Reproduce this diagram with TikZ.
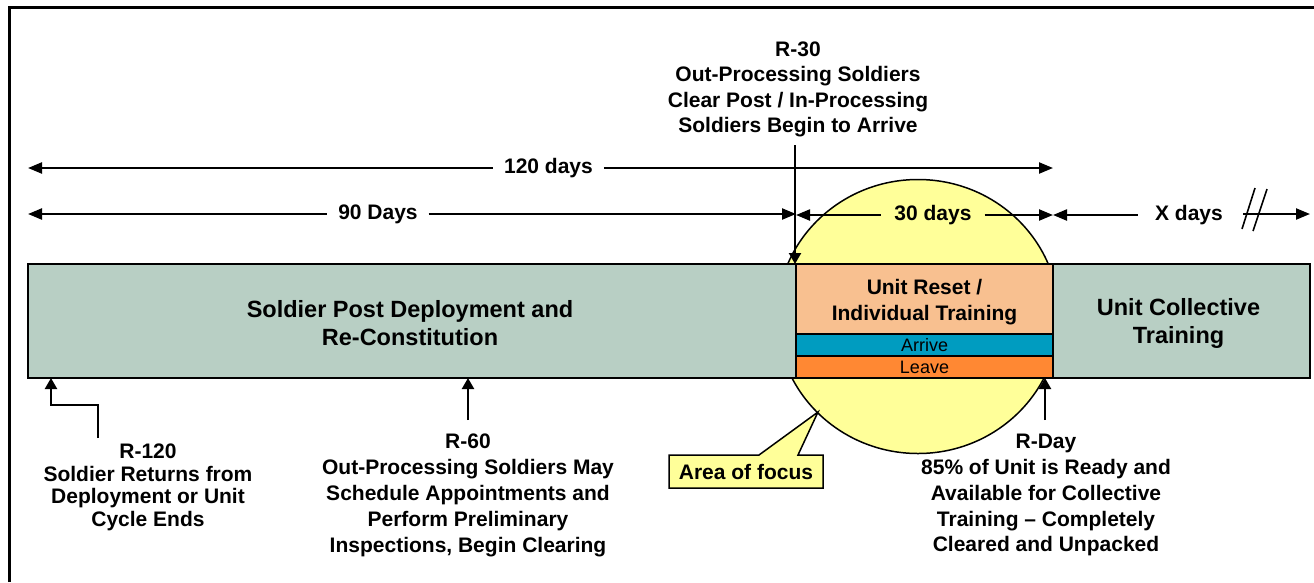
\documentclass[tikz,border=0pt]{standalone}
\usepackage{fontspec}
\setmainfont{Liberation Sans}
\usetikzlibrary{arrows.meta,shapes.geometric}
\definecolor{barGreen}{RGB}{184,207,196}
\definecolor{resetOrange}{RGB}{248,192,144}
\definecolor{arriveBlue}{RGB}{0,156,192}
\definecolor{leaveOrange}{RGB}{255,136,51}
\definecolor{focusYellow}{RGB}{255,255,153}
\tikzset{
  seg/.style={draw=black, line width=1.2pt, inner sep=0pt, outer sep=0pt, align=center},
  barlbl/.style={font=\bfseries\fontsize{23.5}{28}\selectfont, align=center, inner sep=0pt},
  midlbl/.style={font=\bfseries\fontsize{21}{26}\selectfont, align=center, inner sep=0pt},
  rowlbl/.style={font=\fontsize{18}{20}\selectfont},
  lbl/.style={font=\bfseries\fontsize{21}{25.5}\selectfont, align=center, inner sep=0pt, anchor=north},
  dimlbl/.style={font=\bfseries\fontsize{21}{25}\selectfont, inner ysep=0pt, inner xsep=11pt, outer sep=0pt},
  dimline/.style={line width=2.2pt},
  ptr/.style={line width=2.2pt, -{Triangle[length=11pt,width=12pt]}},
  >={Triangle[length=14pt,width=11pt]}
}
\begin{document}
\begin{tikzpicture}[x=1pt,y=-1pt]
\useasboundingbox (0,0) rectangle (1314,582);

% outer frame (top and left edges)
\draw[line width=3pt] (9,582) -- (9,7) -- (1314,7);

% highlighted area behind the timeline
\node[ellipse, draw=black, line width=1.5pt, fill=focusYellow, inner sep=0pt,
      minimum width=282pt, minimum height=274pt] (ring) at (918,316.5) {};

% timeline bar
\node[seg, fill=barGreen, minimum width=768pt, minimum height=114pt] (post) at (412,321) {};
\node[seg, fill=resetOrange, minimum width=257pt, minimum height=70pt] (reset) at (924.5,299) {};
\node[seg, rowlbl, fill=arriveBlue, minimum width=257pt, minimum height=22pt] (arrive) at (924.5,345) {Arrive};
\node[seg, rowlbl, fill=leaveOrange, minimum width=257pt, minimum height=22pt] (leave) at (924.5,367) {Leave};
\node[seg, fill=barGreen, minimum width=257pt, minimum height=114pt] (coll) at (1181.5,321) {};

\node[barlbl] (postlbl) at ([shift={(-2pt,-2.5pt)}]post.center) {Soldier Post Deployment and\\Re-Constitution};
\node[midlbl] (resetlbl) at ([yshift=-3pt]reset.center) {Unit Reset /\\Individual Training};
\node[barlbl] (colllbl) at ([shift={(-3pt,-2.5pt)}]coll.center) {Unit Collective\\Training};

% duration dimensions
\node[dimlbl] (d120) at (548.5,168) {120 days};
\draw[dimline,<-] (post.west |- d120) -- (d120.west);
\draw[dimline,->] (d120.east) -- (reset.east |- d120);

\node[dimlbl] (d90) at (378,214) {90 Days};
\draw[dimline,<-] (post.west |- d90) -- (d90.west);
\draw[dimline,->] (d90.east) -- (post.east |- d90);

\node[dimlbl, inner xsep=13pt] (d30) at (933,215) {30 days};
\draw[dimline,<-] (reset.west |- d30) -- (d30.west);
\draw[dimline,->] (d30.east) -- (reset.east |- d30);

\node[dimlbl, inner xsep=17pt] (dx) at (1189,215) {X days};
\coordinate (brk) at (1243,214);
\draw[dimline,<-] (coll.west |- dx) -- (dx.west);
\draw[dimline,->] (brk) -- (coll.east |- brk);
\draw[line width=1.6pt] ([shift={(-1,15)}]brk) -- ([shift={(12,-26)}]brk)
                        ([shift={(10,17)}]brk) -- ([shift={(24,-25)}]brk);

% milestone labels
\node[lbl] (r30) at (798,41.5)
  {R-30\\Out-Processing Soldiers\\Clear Post / In-Processing\\Soldiers Begin to Arrive};
\node[lbl, font=\bfseries\fontsize{21}{22.5}\selectfont] (r120) at (148,444)
  {R-120\\Soldier Returns from\\Deployment or Unit\\Cycle Ends};
\node[lbl, font=\bfseries\fontsize{21}{25.8}\selectfont] (r60) at (468,434)
  {R-60\\Out-Processing Soldiers May\\Schedule Appointments and\\Perform Preliminary\\Inspections, Begin Clearing};
\node[lbl, font=\bfseries\fontsize{21}{25.8}\selectfont] (rday) at (1046,434)
  {R-Day\\85\% of Unit is Ready and\\Available for Collective\\Training -- Completely\\Cleared and Unpacked};

% milestone pointers
\coordinate (r30top) at (795,145);
\draw[ptr] (r30top) -- (r30top |- reset.north);
\coordinate (r120a) at (98,438);
\coordinate (r120b) at (51,405);
\draw[ptr] (r120a) |- (r120b) -- (r120b |- post.south);
\coordinate (r60a) at (468,420);
\draw[ptr] (r60a) -- (r60a |- post.south);
\coordinate (rdaya) at (1045,420);
\draw[ptr] (rdaya) -- (rdaya |- leave.south);

% callout
\coordinate (tip) at (818,412);
\draw[line width=1.5pt, fill=focusYellow, line join=miter]
  (669,455) -- (759,455) -- (tip) -- (798,455) -- (823,455) -- (823,488) -- (669,488) -- cycle;
\node[font=\bfseries\fontsize{21}{25}\selectfont, inner sep=0pt] (focus) at (746,472) {Area of focus};
\end{tikzpicture}
\end{document}
